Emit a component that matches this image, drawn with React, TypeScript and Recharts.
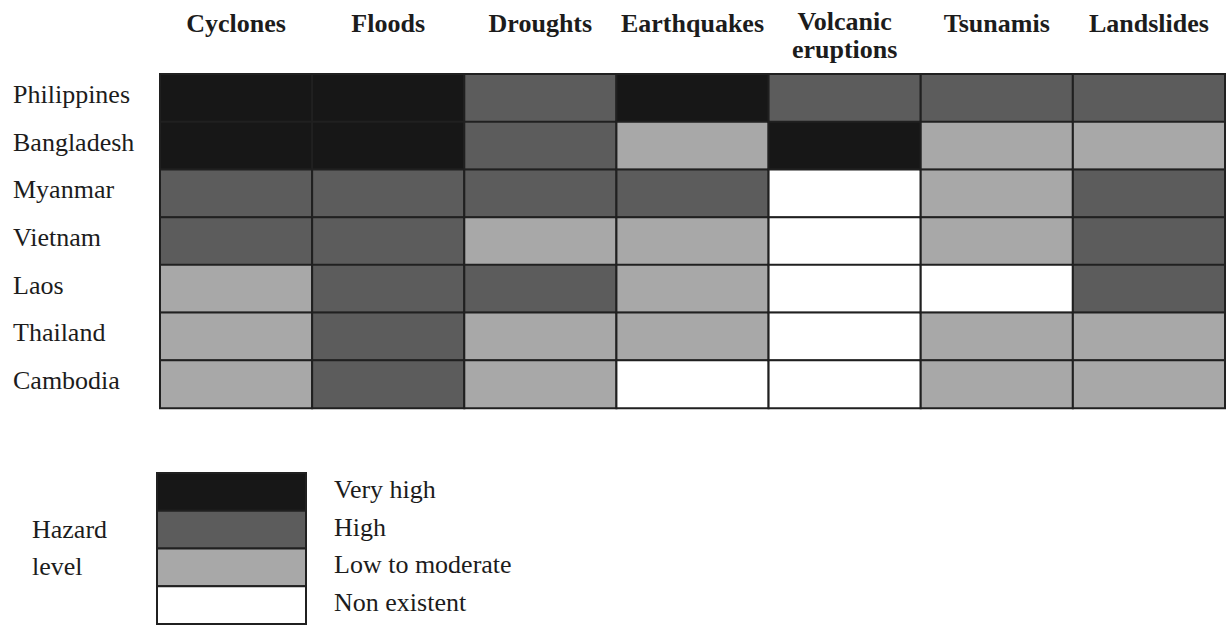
import React from 'react';
import { BarChart, Bar, XAxis, YAxis, Cell, Legend } from 'recharts';

// Hazard categories (columns) and countries (rows)
const HAZARDS = ['Cyclones', 'Floods', 'Droughts', 'Earthquakes', 'Volcanic eruptions', 'Tsunamis', 'Landslides'];
const COUNTRIES = ['Philippines', 'Bangladesh', 'Myanmar', 'Vietnam', 'Laos', 'Thailand', 'Cambodia'];

// Hazard level per country (0 = non existent, 1 = low to moderate, 2 = high, 3 = very high)
const cyclones = [3, 3, 2, 2, 1, 1, 1];
const floods = [3, 3, 2, 2, 2, 2, 2];
const droughts = [2, 2, 2, 1, 2, 1, 1];
const earthquakes = [3, 1, 2, 1, 1, 1, 0];
const volcanic = [2, 3, 0, 0, 0, 0, 0];
const tsunamis = [2, 1, 1, 1, 0, 1, 1];
const landslides = [2, 1, 2, 2, 2, 1, 1];

const LEVELS_BY_HAZARD = [cyclones, floods, droughts, earthquakes, volcanic, tsunamis, landslides];

// Legend
const LEVEL_LABELS = ['Very high', 'High', 'Low to moderate', 'Non existent'];
const LEVEL_VALUES = [3, 2, 1, 0];
const LEVEL_COLORS = ['#ffffff', '#a8a8a8', '#5c5c5c', '#171717'];

const FONT = '"Liberation Serif", "Times New Roman", serif';
const INK = '#1c1c1c';
const BORDER = '#202020';
const FS = 26;

const data = COUNTRIES.map((country) => {
  const row: Record<string, any> = { country };
  HAZARDS.forEach((h) => {
    row[h] = 1;
  });
  return row;
});

const TopTick = (props: any) => {
  const { x, payload } = props;
  const label = HAZARDS[Math.floor(payload.value)];
  const lines = label === 'Volcanic eruptions' ? ['Volcanic', 'eruptions'] : [label];
  return (
    <g>
      {lines.map((ln, i) => (
        <text
          key={i}
          x={x}
          y={lines.length > 1 ? 30 + i * 28 : 32}
          textAnchor="middle"
          fontFamily={FONT}
          fontWeight="bold"
          fontSize={FS}
          fill={INK}
        >
          {ln}
        </text>
      ))}
    </g>
  );
};

const LeftTick = (props: any) => {
  const { y, payload } = props;
  return (
    <text x={13} y={y + 5} textAnchor="start" fontFamily={FONT} fontSize={FS} fill={INK}>
      {payload.value}
    </text>
  );
};

const HazardLegend = () => {
  const boxX = 157;
  const boxW = 149;
  const top = 23;
  const h = 37.75;
  return (
    <svg width={560} height={176} style={{ display: 'block' }}>
      <text x={32} y={88} fontFamily={FONT} fontSize={FS} fill={INK}>Hazard</text>
      <text x={32} y={125} fontFamily={FONT} fontSize={FS} fill={INK}>level</text>
      {LEVEL_LABELS.map((lab, i) => (
        <g key={lab}>
          <rect
            x={boxX}
            y={top + i * h}
            width={boxW}
            height={h}
            fill={LEVEL_COLORS[LEVEL_VALUES[i]]}
            stroke={BORDER}
            strokeWidth={2}
          />
          <text x={334} y={top + i * h + h / 2 + 6} fontFamily={FONT} fontSize={FS} fill={INK}>
            {lab}
          </text>
        </g>
      ))}
    </svg>
  );
};

export default function App() {
  return (
    <div style={{ position: 'absolute', left: 0, top: 0, width: 1227, height: 626, background: '#fff' }}>
      <BarChart
        width={1227}
        height={626}
        data={data}
        layout="vertical"
        barCategoryGap={0}
        margin={{ top: 0, right: 2, bottom: 218, left: 0 }}
      >
        <XAxis
          type="number"
          orientation="top"
          domain={[0, 7]}
          ticks={[0.5, 1.5, 2.5, 3.5, 4.5, 5.5, 6.5]}
          height={74}
          axisLine={false}
          tickLine={false}
          tick={<TopTick />}
          interval={0}
        />
        <YAxis
          type="category"
          dataKey="country"
          width={160}
          axisLine={false}
          tickLine={false}
          tick={<LeftTick />}
          interval={0}
        />
        {HAZARDS.map((h, hi) => (
          <Bar
            key={h}
            dataKey={h}
            stackId="grid"
            isAnimationActive={false}
            stroke={BORDER}
            strokeWidth={2}
          >
            {COUNTRIES.map((c, ci) => (
              <Cell key={c} fill={LEVEL_COLORS[LEVELS_BY_HAZARD[hi][ci]]} />
            ))}
          </Bar>
        ))}
        <Legend
          layout="horizontal"
          verticalAlign="middle"
          align="center"
          wrapperStyle={{ position: 'absolute', left: 0, top: 450, width: 560, height: 176 }}
          content={() => <HazardLegend />}
        />
      </BarChart>
    </div>
  );
}
